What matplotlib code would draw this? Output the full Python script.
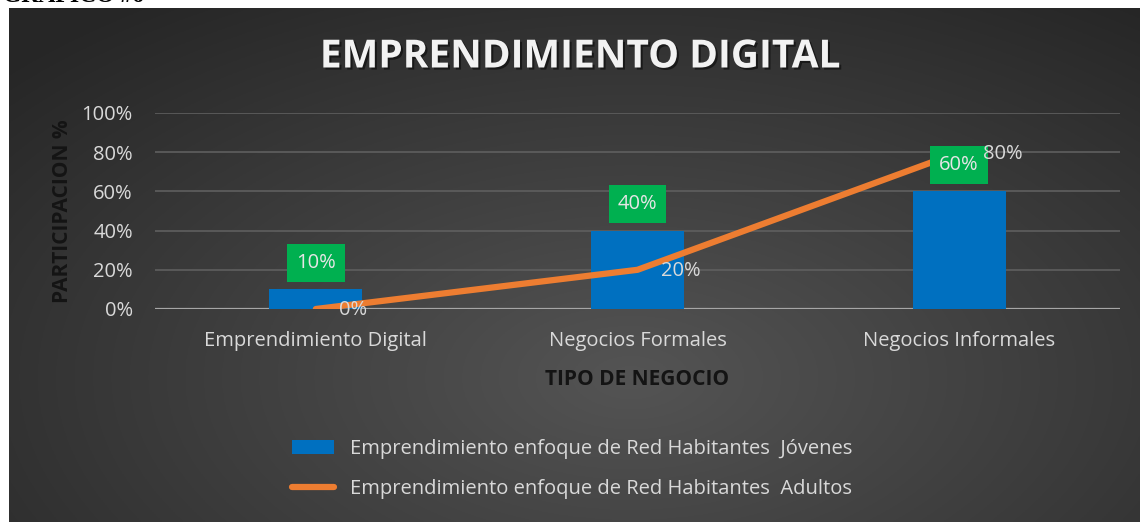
import numpy as np
import matplotlib
matplotlib.use("Agg")
import matplotlib.pyplot as plt
import matplotlib.patheffects as pe
from matplotlib.lines import Line2D
from matplotlib.patches import Patch

plt.rcParams["font.family"] = ["Open Sans", "DejaVu Sans"]

# ---- data ----
categorias = ["Emprendimiento Digital", "Negocios Formales", "Negocios Informales"]
jovenes = [0.10, 0.40, 0.60]
adultos = [0.00, 0.20, 0.80]
serie_jovenes = "Emprendimiento enfoque de Red Habitantes  Jóvenes"
serie_adultos = "Emprendimiento enfoque de Red Habitantes  Adultos"
titulo = "EMPRENDIMIENTO DIGITAL"
yticks = [0, 0.2, 0.4, 0.6, 0.8, 1.0]

AZUL = "#0070C0"
NARANJA = "#ED7D31"
VERDE = "#00B050"
TXT = "#d9d9d9"
W, H = 1140, 522
FS = 14.5

fig = plt.figure(figsize=(W / 100, H / 100), dpi=100, facecolor="white")

# dark panel with radial gradient
bg = fig.add_axes([9 / W, 0, 1 - 9 / W, (H - 8) / H], zorder=0)
yy, xx = np.mgrid[0:1:300j, 0:1:600j]
r = np.sqrt(((xx - 0.55) / 0.75) ** 2 + ((yy - 0.72) / 0.9) ** 2)
shade = np.clip(0.33 - 0.18 * r, 0.15, 0.33)
bg.imshow(np.dstack([shade] * 3), aspect="auto", extent=[0, 1, 0, 1], origin="upper")
bg.set_axis_off()

# caption above the panel, cut off by the top edge as in the source
fig.text(0.003, 1 + 4 / H, "GRÁFICO #6", fontsize=17, fontweight="bold", color="black",
         family=["Liberation Serif"], va="center", ha="left", zorder=1)

ax = fig.add_axes([155 / W, (H - 309) / H, (1120 - 155) / W, (309 - 113) / H], zorder=2)
ax.patch.set_alpha(0)
x = np.arange(len(categorias))

ax.bar(x, jovenes, width=0.29, color=AZUL, zorder=3)
ax.plot(x, adultos, color=NARANJA, lw=4.5, solid_capstyle="round", zorder=4)

for xi, v in zip(x, jovenes):
    ax.annotate(f"{v:.0%}", (xi, v), xytext=(0, 19), textcoords="offset points",
                ha="center", va="center", fontsize=FS, color="#e6e6e6", zorder=5,
                bbox=dict(boxstyle="square,pad=0.45", fc=VERDE, ec="none"))
for xi, v in zip(x, adultos):
    ax.annotate(f"{v:.0%}", (xi, v), xytext=(17, -1), textcoords="offset points",
                ha="left", va="center", fontsize=FS, color=TXT, zorder=6)

ax.set_xlim(-0.5, 2.5)
ax.set_ylim(0, 1)
ax.set_yticks(yticks)
ax.set_yticklabels([f"{t:.0%}" for t in yticks])
ax.set_xticks(x)
ax.set_xticklabels(categorias)
ax.tick_params(axis="both", length=0, colors=TXT, labelsize=FS)
ax.tick_params(axis="y", pad=16)
ax.tick_params(axis="x", pad=16)
for s in ax.spines.values():
    s.set_visible(False)
ax.grid(axis="y", color="#5f5f5f", lw=1.2, zorder=0)
ax.set_axisbelow(True)
ax.axhline(0, color="#a6a6a6", lw=1.6, zorder=2)

ax.set_ylabel("PARTICIPACION %", fontsize=15, fontweight="bold", color="#141414", labelpad=6)
ax.set_xlabel("TIPO DE NEGOCIO", fontsize=15, fontweight="bold", color="#141414", labelpad=13)

fig.text(580 / W, 1 - 57 / H, titulo, fontsize=28, fontweight="bold", color="#f2f2f2",
         ha="center", va="center", zorder=3,
         path_effects=[pe.SimplePatchShadow(offset=(1.5, -1.5), shadow_rgbFace="black",
                                            alpha=0.5), pe.Normal()])

handles = [Patch(fc=AZUL, ec="none"),
           Line2D([], [], color=NARANJA, lw=4.5, solid_capstyle="round")]
fig.legend(handles, [serie_jovenes, serie_adultos], loc="center left",
           bbox_to_anchor=(274 / W, 1 - 469 / H), frameon=False, fontsize=FS,
           labelcolor=TXT, handlelength=2.1, handletextpad=0.75, labelspacing=0.95)

fig.savefig("out.png", dpi=100, facecolor="white")
